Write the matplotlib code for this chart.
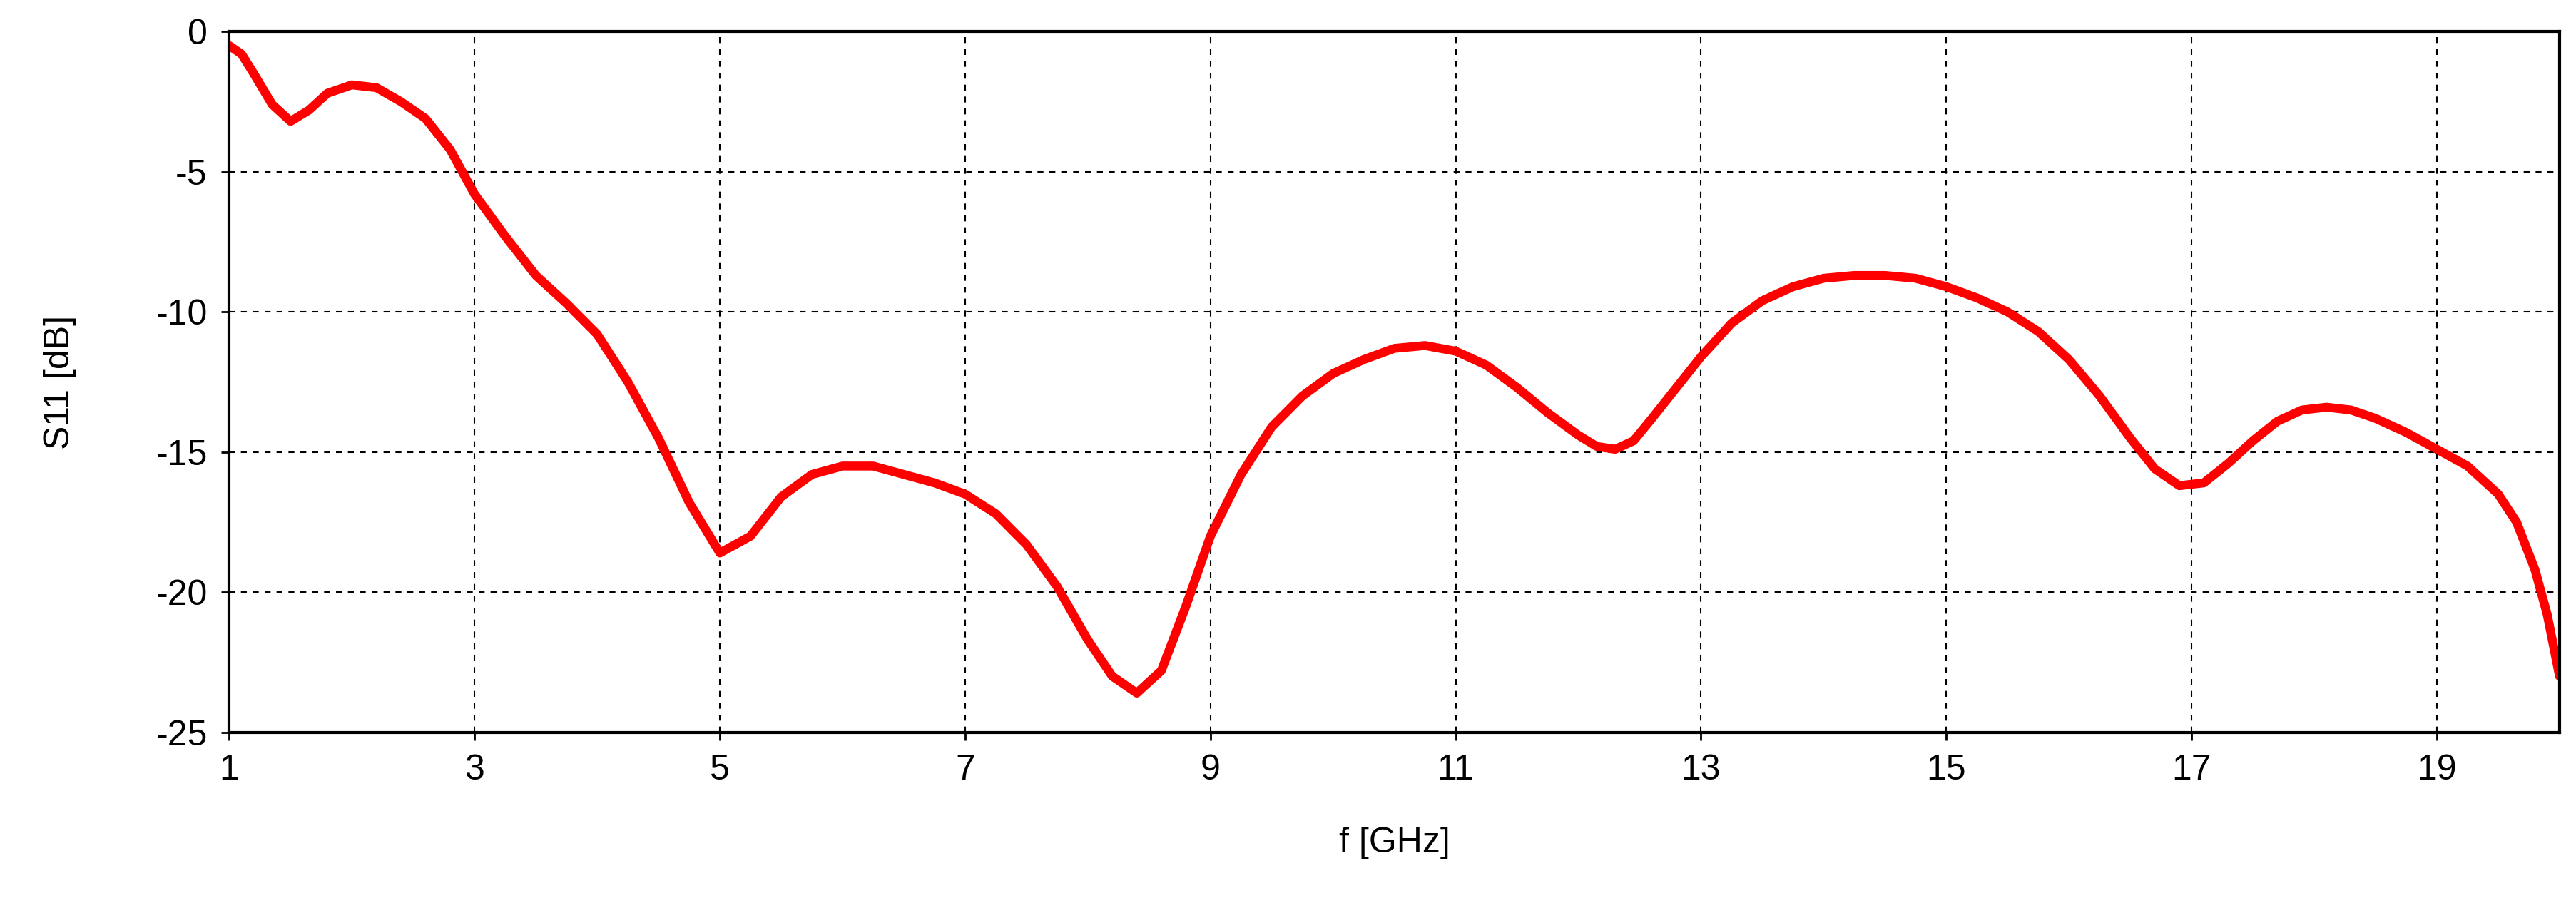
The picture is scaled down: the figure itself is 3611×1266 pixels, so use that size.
import matplotlib
matplotlib.use("Agg")
import matplotlib.pyplot as plt

plt.rcParams['font.family'] = ['Liberation Sans', 'DejaVu Sans']
plt.rcParams['axes.unicode_minus'] = False

freq = [1.0, 1.1, 1.2, 1.35, 1.5, 1.65, 1.8, 2.0, 2.2, 2.4, 2.6, 2.8, 3.0, 3.25, 3.5, 3.75,
        4.0, 4.25, 4.5, 4.75, 5.0, 5.25, 5.5, 5.75, 6.0, 6.25, 6.5, 6.75, 7.0, 7.25, 7.5,
        7.75, 8.0, 8.2, 8.4, 8.6, 8.8, 9.0, 9.25, 9.5, 9.75, 10.0, 10.25, 10.5, 10.75, 11.0,
        11.25, 11.5, 11.75, 12.0, 12.15, 12.3, 12.45, 12.6, 12.8, 13.0, 13.25, 13.5, 13.75,
        14.0, 14.25, 14.5, 14.75, 15.0, 15.25, 15.5, 15.75, 16.0, 16.25, 16.5, 16.7, 16.9,
        17.1, 17.3, 17.5, 17.7, 17.9, 18.1, 18.3, 18.5, 18.75, 19.0, 19.25, 19.5, 19.65,
        19.8, 19.9, 20.0]
s11 = [-0.5, -0.8, -1.5, -2.6, -3.2, -2.8, -2.2, -1.9, -2.0, -2.5, -3.1, -4.2, -5.8, -7.3,
       -8.7, -9.7, -10.8, -12.5, -14.5, -16.8, -18.6, -18.0, -16.6, -15.8, -15.5, -15.5,
       -15.8, -16.1, -16.5, -17.2, -18.3, -19.8, -21.7, -23.0, -23.6, -22.8, -20.5, -18.0,
       -15.8, -14.1, -13.0, -12.2, -11.7, -11.3, -11.2, -11.4, -11.9, -12.7, -13.6, -14.4,
       -14.8, -14.9, -14.6, -13.8, -12.7, -11.6, -10.4, -9.6, -9.1, -8.8, -8.7, -8.7, -8.8,
       -9.1, -9.5, -10.0, -10.7, -11.7, -13.0, -14.5, -15.6, -16.2, -16.1, -15.4, -14.6,
       -13.9, -13.5, -13.4, -13.5, -13.8, -14.3, -14.9, -15.5, -16.5, -17.5, -19.2, -20.8,
       -23.0]

xticks = [1, 3, 5, 7, 9, 11, 13, 15, 17, 19]
yticks = [0, -5, -10, -15, -20, -25]

fig = plt.figure(figsize=(36.11, 12.66), dpi=100)
ax = fig.add_axes([0.089, 0.189, 0.9046, 0.776])
ax.plot(freq, s11, color='#ff0000', lw=9, solid_capstyle='round', solid_joinstyle='round')
ax.set_xlim(1, 20)
ax.set_ylim(-25, 0)
ax.set_xticks(xticks)
ax.set_yticks(yticks)
ax.grid(True, color='black', ls=(0, (4, 4)), lw=1.5)
for sp in ax.spines.values():
    sp.set_linewidth(3)
ax.tick_params(labelsize=36, width=2, length=8, direction='out', pad=14)
ax.set_xlabel('f [GHz]', fontsize=36, labelpad=40)
ax.set_ylabel('S11 [dB]', fontsize=36, labelpad=80)
fig.savefig('out.png', dpi=100)
